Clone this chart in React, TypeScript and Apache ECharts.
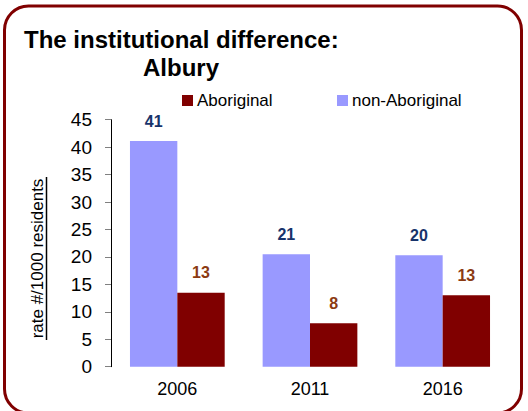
import React, { useEffect, useRef } from "react";
import * as echarts from "echarts";

const categories = ["2006", "2011", "2016"];
const nonAboriginal = [41.1, 20.5, 20.3];
const aboriginal = [13.45, 7.9, 13.0];
const yTicks = { min: 0, max: 45, interval: 5 };
const yAxisTitle = "rate #/1000 residents";

const FONT = "'Liberation Sans', Arial, sans-serif";

export default function App() {
  const ref = useRef<HTMLDivElement>(null);
  useEffect(() => {
    if (!ref.current) return;
    const chart = echarts.init(ref.current, null, { renderer: "svg" });
    chart.setOption({
      animation: false,
      backgroundColor: "#ffffff",
      title: [
        {
          text: "The institutional difference:",
          left: 19,
          top: 22,
          textStyle: { fontFamily: FONT, fontSize: 24, fontWeight: "bold", color: "#000" },
        },
        {
          text: "Albury",
          left: 138,
          top: 50,
          textStyle: { fontFamily: FONT, fontSize: 24, fontWeight: "bold", color: "#000" },
        },
      ],
      legend: [
        {
          data: ["Aboriginal"],
          left: 177,
          top: 87,
          icon: "rect",
          itemWidth: 11,
          itemHeight: 11,
          itemGap: 4,
          textStyle: { fontFamily: FONT, fontSize: 17, color: "#000", padding: [0, 0, 0, -1] },
        },
        {
          data: ["non-Aboriginal"],
          left: 332,
          top: 87,
          icon: "rect",
          itemWidth: 11,
          itemHeight: 11,
          textStyle: { fontFamily: FONT, fontSize: 17, color: "#000", padding: [0, 0, 0, -1] },
        },
      ],
      grid: { left: 111, right: 19, top: 119.7, bottom: 44.3 },
      xAxis: {
        type: "category",
        data: categories,
        axisLine: { show: false },
        axisTick: { show: false },
        axisLabel: { fontFamily: FONT, fontSize: 18, color: "#000", margin: 13 },
      },
      yAxis: {
        type: "value",
        min: yTicks.min,
        max: yTicks.max,
        interval: yTicks.interval,
        splitLine: { show: false },
        axisLine: { show: true, lineStyle: { color: "#000", width: 1 } },
        axisTick: { show: true, length: 6, lineStyle: { color: "#808080" } },
        axisLabel: { fontFamily: FONT, fontSize: 19, color: "#000", margin: 19 },
      },
      series: [
        {
          name: "non-Aboriginal",
          type: "bar",
          data: nonAboriginal,
          barGap: "0%",
          barCategoryGap: "28.6%",
          itemStyle: { color: "#9999FF" },
          label: {
            show: true,
            position: "top",
            distance: 12,
            formatter: (p: any) => String(Math.round(p.value)),
            fontFamily: FONT,
            fontSize: 16,
            fontWeight: "bold",
            color: "#17336B",
          },
        },
        {
          name: "Aboriginal",
          type: "bar",
          data: aboriginal,
          barGap: "0%",
          barCategoryGap: "28.6%",
          itemStyle: { color: "#800000" },
          label: {
            show: true,
            position: "top",
            distance: 12,
            formatter: (p: any) => String(Math.round(p.value)),
            fontFamily: FONT,
            fontSize: 16,
            fontWeight: "bold",
            color: "#8B3A12",
          },
        },
      ],
      graphic: [
        {
          type: "rect",
          shape: { x: 4.5, y: 6, width: 517, height: 407, r: 24 },
          style: { fill: "none", stroke: "#800000", lineWidth: 3 },
          silent: true,
        },
        {
          type: "text",
          x: 37.5,
          y: 258.5,
          rotation: Math.PI / 2,
          style: {
            text: yAxisTitle,
            fontFamily: FONT,
            fontSize: 17,
            fill: "#000",
            align: "center",
            verticalAlign: "middle",
          },
          silent: true,
        },
        {
          type: "line",
          shape: { x1: 46.5, y1: 177, x2: 46.5, y2: 340 },
          style: { stroke: "#000", lineWidth: 1.5 },
          silent: true,
        },
      ],
    });
    return () => chart.dispose();
  }, []);
  return (
    <div
      ref={ref}
      style={{ position: "fixed", left: 0, top: 0, width: 528, height: 411 }}
    />
  );
}
